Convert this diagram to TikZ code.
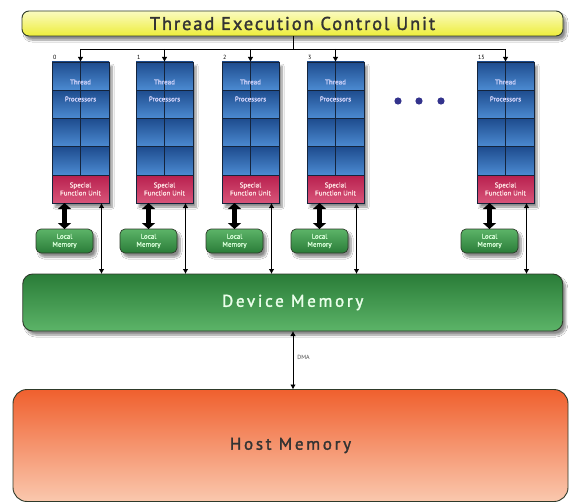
\documentclass[tikz,border=0pt]{standalone}
\usepackage{fontspec}
\setmainfont{PT Sans}
\newfontfamily\titlefont[LetterSpace=10,FakeBold=1.6]{PT Sans}
\newfontfamily\memfont[LetterSpace=16,FakeBold=1.6]{PT Sans}
\newfontfamily\smallfont[FakeBold=0.8]{PT Sans}
\usetikzlibrary{shadows.blur,arrows.meta}
\definecolor{ytop}{HTML}{FBFBC0}
\definecolor{ybot}{HTML}{EDED3A}
\definecolor{btop}{HTML}{1E4C8E}
\definecolor{bbot}{HTML}{4C8BD2}
\definecolor{rtop}{HTML}{B8204E}
\definecolor{rbot}{HTML}{D8557A}
\definecolor{gtop}{HTML}{2A7C38}
\definecolor{gbot}{HTML}{5CB468}
\definecolor{htop}{HTML}{F0602E}
\definecolor{hbot}{HTML}{FAC8AE}
\definecolor{edge}{HTML}{2E3A2A}
\definecolor{gridc}{HTML}{14243C}
\definecolor{dotc}{HTML}{33338C}
\tikzset{
  shad/.style={blur shadow={shadow xshift=3pt,shadow yshift=-4pt,shadow blur steps=8,shadow opacity=45}},
  titlebox/.style={rounded corners=7pt,draw=edge,line width=0.9pt,top color=ytop,bottom color=ybot,shad,
     minimum width=541pt,minimum height=25pt,outer sep=0pt,font=\titlefont\fontsize{18.5}{20}\selectfont,text=black!80},
  procbox/.style={draw=gridc,line width=0.6pt,fill=btop,minimum width=57pt,minimum height=141pt,anchor=north west,outer sep=0pt,shad},
  sfubox/.style={draw=gridc,line width=0.6pt,top color=rtop,bottom color=rbot,minimum width=57pt,minimum height=28pt,
     anchor=north west,outer sep=0pt,inner sep=0pt,align=center,font=\smallfont\fontsize{7}{8}\selectfont,text=pink!40},
  ptext/.style={font=\smallfont\fontsize{7}{8}\selectfont,text=blue!15,inner sep=0pt},
  idx/.style={font=\fontsize{6}{7}\selectfont,anchor=south west,inner sep=1pt},
  localbox/.style={rounded corners=5pt,draw=edge,line width=0.7pt,top color=gbot,bottom color=gtop,minimum width=57pt,
     minimum height=24pt,outer sep=0pt,inner sep=0pt,align=center,font=\smallfont\fontsize{7}{8}\selectfont,text=green!15,shad},
  memdev/.style={rounded corners=10pt,draw=edge,line width=0.9pt,top color=gtop,bottom color=gbot,minimum width=540pt,
     minimum height=57pt,outer sep=0pt,font=\memfont\fontsize{17}{19}\selectfont,text=green!8,shad},
  memhost/.style={rounded corners=14pt,draw=edge,line width=0.9pt,top color=htop,bottom color=hbot,minimum width=555pt,
     minimum height=112pt,outer sep=0pt,font=\memfont\fontsize{17}{19}\selectfont,text=black!80},
  thin/.style={line width=0.9pt,{Latex[length=5pt,width=5.5pt]}-{Latex[length=5pt,width=5.5pt]}},
  fat/.style={line width=4.5pt,{Triangle[length=6pt,width=13pt]}-{Triangle[length=6pt,width=13pt]}},
  down/.style={line width=0.9pt,-{Latex[length=5pt,width=5.5pt]}}
}
\begin{document}
\begin{tikzpicture}[x=1pt,y=-1pt]
\useasboundingbox (0,0) rectangle (571,503);
\fill[white] (0,0) rectangle (571,503);
% title
\node[titlebox] (title) at (292.5,23.5) {Thread Execution Control Unit};
\coordinate (bus) at (293,49);
\draw[line width=0.9pt] (title.south -| bus) -- (bus);
% processor blocks
\foreach \L/\lab/\n in {52/0/a,136/1/b,222/2/c,307/3/d,477/15/e}{
  \node[procbox] (p\n) at (\L,62) {};
  \foreach \r in {0,1,2,3}{
    \shade[top color=btop,bottom color=bbot] (\L,{62+\r*28.25}) rectangle ++(57,28.25);
  }
  \draw[gridc,line width=0.8pt] (\L+28.5,62) -- (\L+28.5,175)
     (\L,90.25) -- ++(57,0) (\L,118.5) -- ++(57,0) (\L,146.75) -- ++(57,0);
  \draw[gridc,line width=0.6pt] (\L,62) rectangle (\L+57,175);
  \node[ptext] (t\n) at (\L+28.5,82) {Thread};
  \node[ptext] (q\n) at (\L+28.5,99) {Processors};
  \node[sfubox] (s\n) at (\L,175) {Special\\Function Unit};
  \node[idx] (i\n) at (\L,61) {\lab};
  \node[localbox] (m\n) at (\L+12.5,241) {Local\\Memory};
  \coordinate (c\n) at (\L+49.5,203);
}
% dots
\foreach \x/\n in {398/1,419/2,441/3}{
  \fill[dotc] (\x,101) circle (3.6pt) coordinate (dot\n);
}
% device and host memory
\node[memdev] (dev) at (292.75,302.5) {Device Memory};
\node[memhost] (host) at (290.5,445.5) {Host Memory};
% bus
\draw[line width=0.9pt] (pa.north |- bus) -- (pe.north |- bus);
\foreach \n in {a,b,c,d,e}{
  \draw[down] (p\n.north |- bus) -- (p\n.north);
  \draw[fat] (s\n.south -| m\n.north) -- (m\n.north);
  \draw[thin] (c\n) -- (c\n |- dev.north);
}
% DMA
\draw[thin] (dev.south -| bus) -- (host.north -| bus) node[pos=0.45,right=3pt,font=\fontsize{6}{7}\selectfont,text=black!70,inner sep=1pt] (dma) {DMA};
\end{tikzpicture}
\end{document}
